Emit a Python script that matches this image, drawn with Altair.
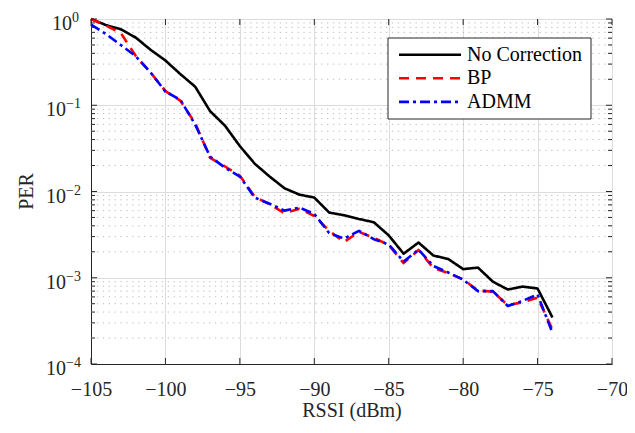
import altair as alt
import pandas as pd

# ---- data ----
rssi = list(range(-105, -73))  # -105 ... -74 dBm

no_correction = [1.0, 0.85, 0.76, 0.61, 0.44, 0.33, 0.23, 0.164, 0.0855, 0.058,
                 0.0336, 0.021, 0.0149, 0.0109, 0.0092, 0.0085, 0.0057, 0.0053, 0.0048, 0.0044,
                 0.0031, 0.0019, 0.00256, 0.00181, 0.00165, 0.00126, 0.00131, 0.00090, 0.00073, 0.00079,
                 0.00075, 0.000346]
bp = [1.0, 0.84, 0.69, 0.375, 0.24, 0.146, 0.113, 0.062, 0.0245, 0.0195,
      0.0152, 0.0087, 0.0071, 0.0056, 0.0063, 0.0052, 0.0035, 0.0026, 0.0034, 0.0029,
      0.0024, 0.00148, 0.0021, 0.0013, 0.00113, 0.00096, 0.00071, 0.00069, 0.00048, 0.00052,
      0.00059, 0.00025]
admm = [0.86, 0.67, 0.50, 0.37, 0.24, 0.144, 0.116, 0.0596, 0.0254, 0.0189,
        0.0149, 0.0085, 0.0072, 0.0060, 0.0065, 0.0055, 0.0033, 0.00285, 0.0035, 0.0028,
        0.00243, 0.00154, 0.00212, 0.00137, 0.00115, 0.00095, 0.00070, 0.00070, 0.00047, 0.00054,
        0.00064, 0.00023]

series_names = ["No Correction", "BP", "ADMM"]
x_ticks = [-105, -100, -95, -90, -85, -80, -75, -70]
y_exponents = [0, -1, -2, -3, -4]
y_major = [10.0 ** e for e in y_exponents]
y_minor = [m * 10.0 ** e for e in [-4, -3, -2, -1] for m in range(2, 10)]

# ---- styling ----
W, H = 521, 345
FONT = "Liberation Serif, Times New Roman, serif"
AXC = "#262626"
styles = {
    "No Correction": dict(color="#000000", dash=[1, 0]),
    "BP": dict(color="#ff0000", dash=[10, 7]),
    "ADMM": dict(color="#0000ff", dash=[10, 4, 3, 4]),
}

xs = alt.Scale(domain=[-105, -70], nice=False, zero=False)
ys = alt.Scale(type="log", domain=[1e-4, 1], nice=False)

major_df = pd.DataFrame({"v": y_major, "e": y_exponents})
minor_df = pd.DataFrame({"v": y_minor})
xt_df = pd.DataFrame({"x": x_ticks})

minor_grid = alt.Chart(minor_df).mark_rule(
    color="#bdbdbd", strokeWidth=1, strokeDash=[1.3, 4.6]
).encode(y=alt.Y("v:Q", scale=ys), x=alt.value(0), x2=alt.value(W))

base_axes = alt.Chart(major_df).mark_rule(opacity=0).encode(
    y=alt.Y("v:Q", scale=ys,
            axis=alt.Axis(values=y_major, grid=True, labels=False, ticks=False,
                          title=None, gridColor="#dcdcdc", domainColor=AXC)),
)
x_axis_layer = alt.Chart(xt_df).mark_rule(opacity=0).encode(
    x=alt.X("x:Q", scale=xs,
            axis=alt.Axis(values=x_ticks, grid=True, ticks=False, gridColor="#dcdcdc",
                          domainColor=AXC, labelFont=FONT, labelFontSize=20,
                          labelColor=AXC, labelPadding=15, labelFlush=False,
                          labelOverlap=False, title="RSSI (dBm)",
                          titleFont=FONT, titleFontSize=20, titleFontWeight="normal",
                          titleColor=AXC, titlePadding=1)),
)

lines = []
for name, vals in zip(series_names, [no_correction, bp, admm]):
    df = pd.DataFrame({"RSSI": rssi, "PER": vals})
    st = styles[name]
    lines.append(
        alt.Chart(df).mark_line(color=st["color"], strokeWidth=2.6,
                                strokeDash=st["dash"], strokeCap="butt", strokeJoin="round")
        .encode(x=alt.X("RSSI:Q", scale=xs), y=alt.Y("PER:Q", scale=ys))
    )

# inward ticks (MATLAB style)
tick_layers = []
for df_, field, length in [(major_df, "v", 6), (minor_df, "v", 4)]:
    tick_layers.append(alt.Chart(df_).mark_rule(color=AXC, strokeWidth=1).encode(
        y=alt.Y(f"{field}:Q", scale=ys), x=alt.value(0), x2=alt.value(length)))
    tick_layers.append(alt.Chart(df_).mark_rule(color=AXC, strokeWidth=1).encode(
        y=alt.Y(f"{field}:Q", scale=ys), x=alt.value(W - length), x2=alt.value(W)))
tick_layers.append(alt.Chart(xt_df).mark_rule(color=AXC, strokeWidth=1).encode(
    x=alt.X("x:Q", scale=xs), y=alt.value(H - 6), y2=alt.value(H)))
tick_layers.append(alt.Chart(xt_df).mark_rule(color=AXC, strokeWidth=1).encode(
    x=alt.X("x:Q", scale=xs), y=alt.value(0), y2=alt.value(6)))

# y tick labels: "10" with a raised exponent
ylab = alt.Chart(major_df).transform_calculate(
    tenx="datum.e == 0 ? -19 : -25",
    etxt="datum.e == 0 ? '0' : '\u2212' + abs(datum.e)",
)
ten = ylab.mark_text(font=FONT, fontSize=20, color=AXC, align="right",
                     baseline="middle", dy=5).encode(
    y=alt.Y("v:Q", scale=ys), x=alt.X("tenx:Q", scale=None), text=alt.value("10"))
expo = ylab.mark_text(font=FONT, fontSize=14, color=AXC, align="left",
                      baseline="middle", dy=-1).encode(
    y=alt.Y("v:Q", scale=ys), x=alt.X("tenx:Q", scale=None), text="etxt:N")

ytitle = alt.Chart(pd.DataFrame({"t": ["PER"]})).mark_text(
    font=FONT, fontSize=20, color=AXC, angle=270, baseline="middle", align="center"
).encode(x=alt.value(-64), y=alt.value(H / 2), text="t:N")

# legend
leg = [alt.Chart(pd.DataFrame({"a": [0]})).mark_rect(
    fill="white", stroke=AXC, strokeWidth=1
).encode(x=alt.value(297), x2=alt.value(500), y=alt.value(19), y2=alt.value(100))]
for i, name in enumerate(series_names):
    st = styles[name]
    yy = 35.7 + i * 23.6
    d = pd.DataFrame({"label": [name]})
    leg.append(alt.Chart(d).mark_rule(color=st["color"], strokeWidth=2.6,
                                      strokeDash=st["dash"], strokeCap="butt")
               .encode(x=alt.value(308), x2=alt.value(370), y=alt.value(yy)))
    leg.append(alt.Chart(d).mark_text(font=FONT, fontSize=20, color="#000000",
                                      align="left", baseline="middle")
               .encode(x=alt.value(376), y=alt.value(yy), text="label:N"))

chart = alt.layer(
    minor_grid, base_axes, x_axis_layer, *lines, *tick_layers, ten, expo, ytitle, *leg
).properties(
    width=W, height=H,
    autosize=alt.AutoSizeParams(type="none"),
    padding={"left": 83, "top": 11, "right": 15, "bottom": 60},
).configure_view(stroke=AXC, strokeWidth=1).configure(background="white", font=FONT)

chart.save("out.html", embed_options={"renderer": "svg", "actions": False})
